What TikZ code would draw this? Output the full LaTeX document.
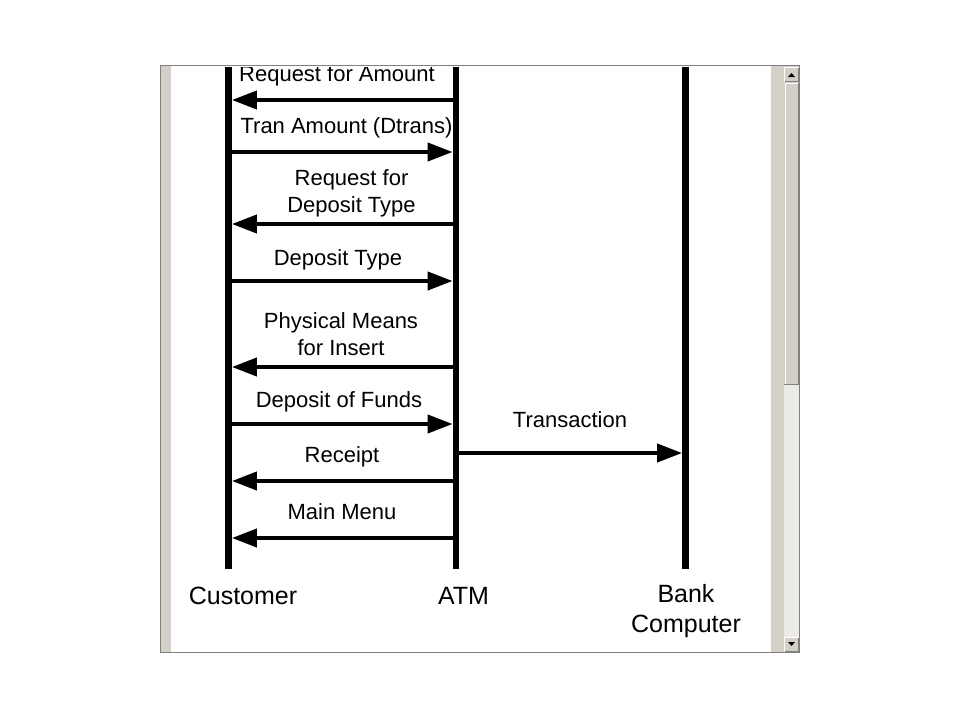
\documentclass[tikz,border=0pt]{standalone}
\usepackage{fontspec}
\setmainfont{Liberation Sans}
\usetikzlibrary{arrows.meta,patterns}

\definecolor{winGray}{HTML}{D4D0C8}
\definecolor{winDark}{HTML}{808080}

\tikzset{
  lifeline/.style={line width=6.8pt},
  msg/.style={line width=4pt,-{Triangle[length=25pt,width=18pt]},shorten >=3.4pt},
  lbl/.style={font=\fontsize{22}{26.5}\selectfont,align=center,inner sep=0pt,anchor=base},
  actor/.style={font=\fontsize{25}{30}\selectfont,align=center,inner sep=0pt,anchor=base}
}

\begin{document}
\begin{tikzpicture}[x=1pt,y=-1pt]
	\useasboundingbox[fill=white] (0,0) rectangle (960,720);
	% window chrome
	\fill[winGray] (161,66) rectangle (171,652);
	\fill[winGray] (771,66) rectangle (799,652);
	\fill[winGray!45!white] (784,385) rectangle (799,637);
	\fill[winGray] (784,67) rectangle (799,82);
	\draw[white] (784.5,81.5) |- (798.5,67.5);
	\draw[winDark] (784.5,81.5) -| (798.5,67.5);
	\fill[black] (788,77) -- (795,77) -- (791.5,73) -- cycle;
	\fill[winGray] (784,83) rectangle (799,385);
	\draw[white] (785.5,384) |- (798,83.5);
	\draw[winDark,line width=1.5pt] (784,384.5) -| (798.5,83);
	\fill[winGray] (784,637) rectangle (799,652);
	\draw[white] (784.5,651.5) |- (798.5,637.5);
	\draw[winDark] (784.5,651.5) -| (798.5,637.5);
	\fill[black] (788,642) -- (795,642) -- (791.5,646) -- cycle;
	\draw[winDark] (160.5,65.5) rectangle (799.5,652.5);

	\begin{scope}
	\clip (171,67.5) rectangle (771,652);
	\coordinate (topY) at (0,64);
	\coordinate (custEnd) at (228.5,569);
	\coordinate (atmEnd) at (456,569);
	\coordinate (bankEnd) at (685.5,569);
	\draw[lifeline] (custEnd |- topY) -- (custEnd);
	\draw[lifeline] (atmEnd |- topY) -- (atmEnd);
	\draw[lifeline] (bankEnd |- topY) -- (bankEnd);

	% messages
	\coordinate (m1) at (0,100);
	\coordinate (m2) at (0,152);
	\coordinate (m3) at (0,224);
	\coordinate (m4) at (0,281);
	\coordinate (m5) at (0,367);
	\coordinate (m6) at (0,424);
	\coordinate (m7) at (0,481);
	\coordinate (m8) at (0,538);
	\coordinate (m9) at (0,453);
	\draw[msg] (atmEnd |- m1) -- (custEnd |- m1);
	\draw[msg] (custEnd |- m2) -- (atmEnd |- m2);
	\draw[msg] (atmEnd |- m3) -- (custEnd |- m3);
	\draw[msg] (custEnd |- m4) -- (atmEnd |- m4);
	\draw[msg] (atmEnd |- m5) -- (custEnd |- m5);
	\draw[msg] (custEnd |- m6) -- (atmEnd |- m6);
	\draw[msg] (atmEnd |- m7) -- (custEnd |- m7);
	\draw[msg] (atmEnd |- m8) -- (custEnd |- m8);
	\draw[msg] (atmEnd |- m9) -- (bankEnd |- m9);

	\node[lbl] (reqAmount) at (337,81) {Request for Amount};
	\node[lbl] (tranAmount) at (346.5,133) {Tran Amount (Dtrans)};
	\node[lbl] (reqDepType) at (351.5,212) {Request for\\Deposit Type};
	\node[lbl] (depType) at (338,265) {Deposit Type};
	\node[lbl] (physMeans) at (341,355) {Physical Means\\for Insert};
	\node[lbl] (depFunds) at (339,407) {Deposit of Funds};
	\node[lbl] (receipt) at (342,462) {Receipt};
	\node[lbl] (mainMenu) at (342,519) {Main Menu};
	\node[lbl] (transaction) at (570,427) {Transaction};
	\end{scope}

	% actors
	\node[actor] (customer) at (243,604) {Customer};
	\node[actor] (atm) at (463.5,604) {ATM};
	\node[actor] (bank) at (686,632) {Bank\\Computer};
\end{tikzpicture}
\end{document}
